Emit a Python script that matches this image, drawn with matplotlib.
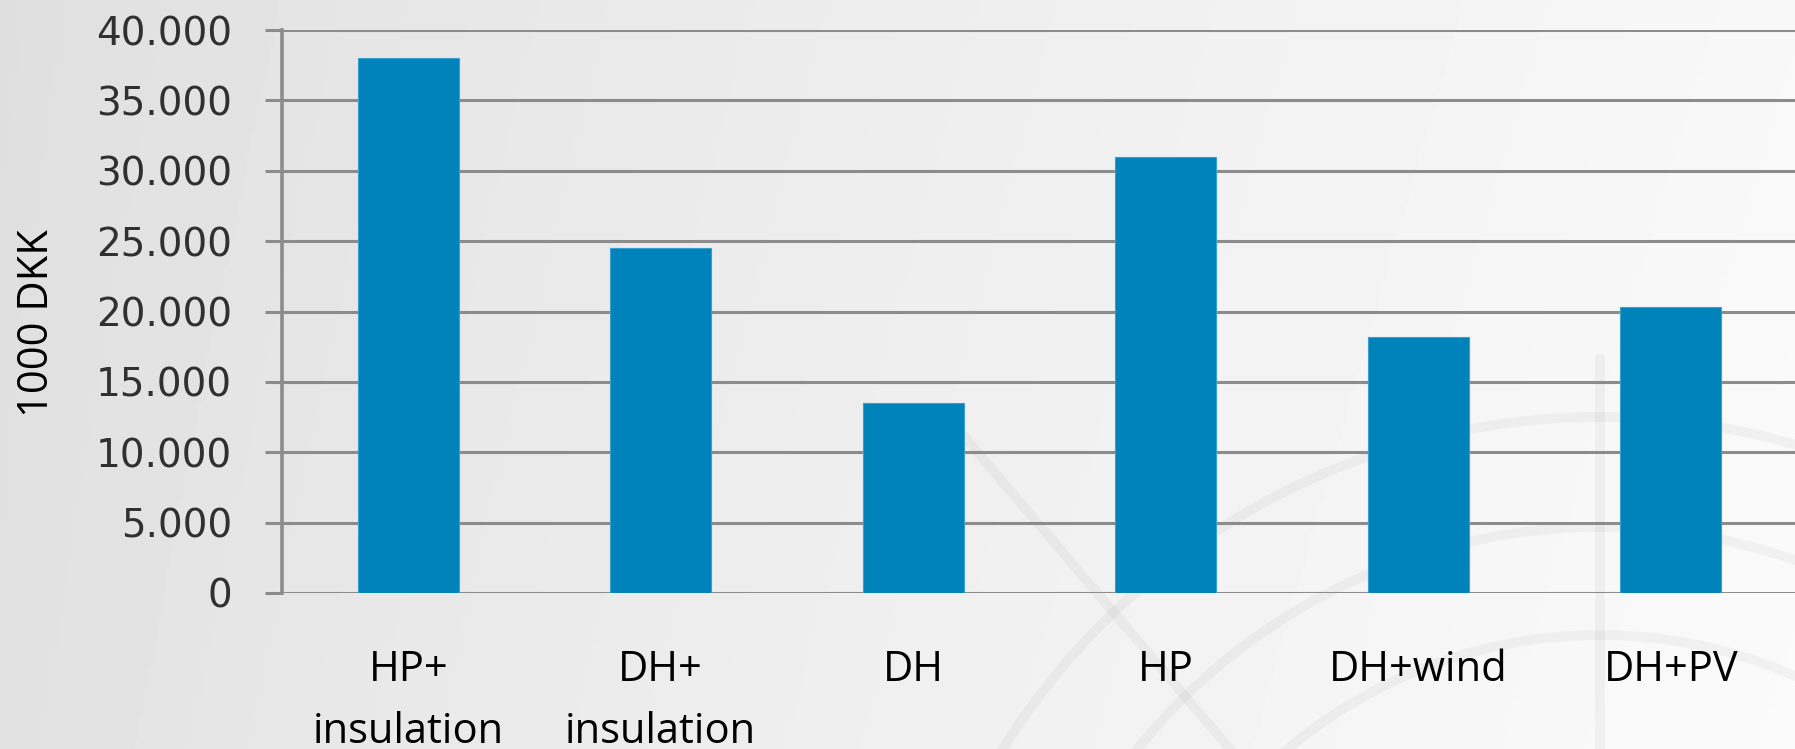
#Bar chart of costs per scenario (1000 DKK) on a light slide background
import matplotlib
matplotlib.use('Agg')
import matplotlib.pyplot as plt
import numpy as np
from matplotlib.patches import Arc

#Data
scenarios = ['HP+\ninsulation', 'DH+\ninsulation', 'DH', 'HP', 'DH+wind', 'DH+PV']
costs = [38000, 24500, 13500, 31000, 18200, 20300]
yticks = [0, 5000, 10000, 15000, 20000, 25000, 30000, 35000, 40000]

W, H = 1795, 749
fig = plt.figure(figsize=(W/100, H/100), dpi=100)

#Background: soft grey gradient with a faint globe watermark
bg = fig.add_axes([0, 0, 1, 1], zorder=0)
gx = np.linspace(0, 1, 400)
gy = np.linspace(0, 1, 200)
GX, GY = np.meshgrid(gx, gy)
shade = 0.872 + 0.10*GX**0.8 + 0.01*GY
bg.imshow(shade, cmap='gray', vmin=0, vmax=1, extent=[0, W, H, 0], aspect='auto')
wm = dict(color='black', alpha=0.035, lw=7)
cx, cy = 1600, 1120
for r in [485, 593, 703]:
    bg.add_patch(Arc((cx, cy), 2*r, 2*r, theta1=180, theta2=360, **wm))
#curved meridians
for w in [500, 1000, 1500]:
    bg.add_patch(Arc((cx, cy+300), w, 2000, theta1=90, theta2=200, **wm))
bg.plot([cx, cx], [360, H], **wm)
bg.plot([950, 1230], [420, H], **wm)
bg.set_xlim(0, W)
bg.set_ylim(H, 0)
bg.axis('off')

#Main chart
left, right, top, bottom = 282, 1797, 30, 593
ax = fig.add_axes([left/W, 1-bottom/H, (right-left)/W, (bottom-top)/H], zorder=1)
ax.patch.set_alpha(0)

x = np.arange(len(scenarios))
ax.bar(x, costs, width=0.4, color='#0082ba', edgecolor='#3a9fcc', linewidth=0.8, zorder=3)

ax.set_xlim(-0.5, len(scenarios)-0.5)
ax.set_ylim(0, 40000)
ax.set_yticks(yticks)
ax.set_yticklabels([f'{v:,}'.replace(',', '.') for v in yticks])
ax.set_xticks(x)
ax.set_xticklabels(scenarios, fontfamily='Open Sans', fontsize=30, color='black', linespacing=1.65)

gridc = '#8c8c8c'
ax.grid(axis='y', color=gridc, linewidth=2.2, zorder=1)
ax.set_axisbelow(True)
for s in ['top', 'right', 'bottom']:
    ax.spines[s].set_visible(False)
ax.spines['left'].set_color(gridc)
ax.spines['left'].set_linewidth(2.6)

ax.tick_params(axis='y', length=12, width=2.2, color=gridc, pad=24,
               labelsize=28, labelcolor='#303030')
ax.tick_params(axis='x', length=0, pad=40)

fig.text(37/W, 1-323/H, '1000 DKK', rotation=90, ha='center', va='center',
         fontfamily='Open Sans', fontsize=30, color='black')

fig.savefig('out.png', dpi=100)
